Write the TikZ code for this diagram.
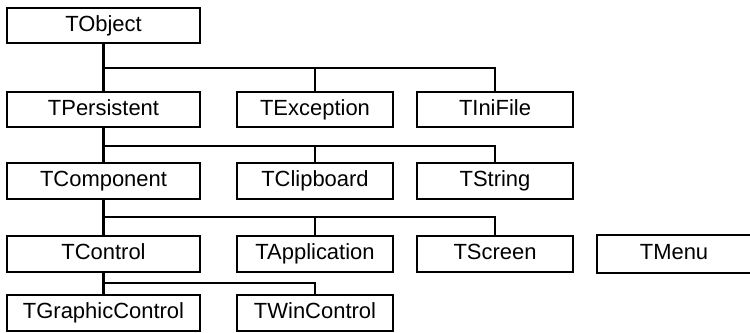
\documentclass[tikz,border=0pt]{standalone}
\usepackage{fontspec}
\setmainfont{Liberation Sans}
\usepackage{tikz}

\tikzset{
  cls/.style={draw, line width=1.2pt, minimum width=#1, minimum height=0.71cm,
    inner sep=0pt, text height=9pt, text depth=2.5pt,
    font=\fontsize{12.5}{14}\selectfont},
  cls/.default=3.12cm,
  clsopen/.style={cls=#1, draw=none},
  bus/.style={line width=1.2pt}
}

\begin{document}
\begin{tikzpicture}[x=0.02cm,y=-0.02cm]

% Rahmen
\useasboundingbox (0,0) rectangle (750,332);

% Ebene 1
\node[cls=3.86cm] (TObject) at (103.5,25.5) {TObject};

% Ebene 2
\node[cls=3.86cm] (TPersistent) at (103.5,109.5) {TPersistent};
\node[cls] (TException) at (315,109.5) {TException};
\node[cls] (TIniFile) at (495,109.5) {TIniFile};

% Ebene 3
\node[cls=3.86cm] (TComponent) at (103.5,181) {TComponent};
\node[cls] (TClipboard) at (315,181) {TClipboard};
\node[cls] (TString) at (495,181) {TString};

% Ebene 4
\node[cls=3.86cm] (TControl) at (103.5,254) {TControl};
\node[cls] (TApplication) at (315,254) {TApplication};
\node[cls] (TScreen) at (495,254) {TScreen};
\node[clsopen=3.04cm] (TMenu) at (674,254) {TMenu};
\draw[bus] (TMenu.north east) -- (TMenu.north west)
  -- (TMenu.south west) -- (TMenu.south east);

% Ebene 5
\node[cls=3.86cm] (TGraphicControl) at (103.5,313) {TGraphicControl};
\node[cls] (TWinControl) at (315,313) {TWinControl};

% Verbindungen
\coordinate (b1) at (103.5,68);
\draw[bus] (TObject.south) -- (TPersistent.north);
\draw[bus] (b1) -| (TException.north);
\draw[bus] (b1) -| (TIniFile.north);

\coordinate (b2) at (103.5,146);
\draw[bus] (TPersistent.south) -- (TComponent.north);
\draw[bus] (b2) -| (TClipboard.north);
\draw[bus] (b2) -| (TString.north);

\coordinate (b3) at (103.5,217);
\draw[bus] (TComponent.south) -- (TControl.north);
\draw[bus] (b3) -| (TApplication.north);
\draw[bus] (b3) -| (TScreen.north);

\coordinate (b4) at (103.5,283);
\draw[bus] (TControl.south) -- (TGraphicControl.north);
\draw[bus] (b4) -| (TWinControl.north);

\end{tikzpicture}
\end{document}
